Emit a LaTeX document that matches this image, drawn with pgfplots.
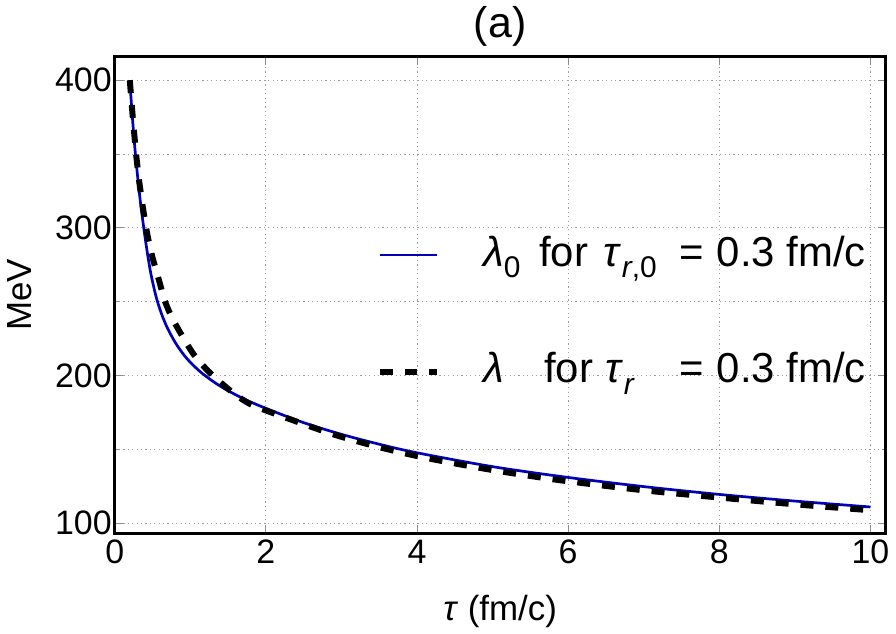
\documentclass[border=0pt]{standalone}
\usepackage{fontspec}
\setmainfont{Liberation Sans}
\usepackage{pgfplots}
\pgfplotsset{compat=1.18}
\definecolor{lblue}{RGB}{0,0,185}
\newcommand{\sub}[1]{\raisebox{-0.28em}{\fontsize{15}{15}\selectfont #1}}
\begin{document}
\begin{tikzpicture}
\path (-57.5pt,-48.5pt) rectangle (390.5pt,264pt);
\begin{axis}[
  at={(0,0)}, anchor=south west,
  scale only axis, width=386.5pt, height=239pt,
  xmin=0, xmax=10.2, ymin=93.2, ymax=416,
  xtick={0,2,4,6,8,10},
  ytick={100,200,300,400},
  minor ytick={150,250,350},
  grid=both,
  major grid style={black!38, line width=0.5pt, dash pattern=on 0.6pt off 1.6pt},
  minor grid style={black!38, line width=0.5pt, dash pattern=on 0.6pt off 1.6pt},
  axis line style={line width=1.4pt},
  tick align=inside,
  major tick length=4pt, minor tick length=2pt,
  tick style={black!45, line width=0.5pt},
  /pgf/number format/assume math mode=true,
  ticklabel style={font=\fontsize{17}{20}\selectfont},
  yticklabel style={xshift=2pt},
  xlabel={\textit{τ} (fm/c)},
  ylabel={MeV},
  label style={font=\fontsize{17.5}{21}\selectfont},
  xlabel style={at={(axis description cs:0.5,0)}, anchor=center, yshift=-39pt},
  ylabel style={at={(axis description cs:-0.1229,0.5)}, anchor=center},
  title={(a)},
  title style={at={(axis description cs:0.5,1)}, anchor=center, yshift=9pt, font=\fontsize{21.5}{25}\selectfont},
  legend cell align=left,
  legend image code/.code={\draw[#1] (0pt,0pt) -- (29pt,0pt);},
  legend style={draw=none, fill=none, at={(axis cs:3.46,296)}, anchor=north west,
    inner sep=0pt, row sep=37.5pt, font=\fontsize{21}{25}\selectfont,
    nodes={inner sep=0pt, text height=16pt, text depth=5pt},
    /tikz/every odd column/.append style={column sep=21.5pt}},
]
\addplot[lblue, line width=1.35pt, smooth, tension=0.5] coordinates {
(0.2,400) (0.23,377.7) (0.26,358.3) (0.276,349) (0.3,336.5) (0.34,317.6) (0.386,299.5)
(0.43,283.8) (0.48,268.6) (0.55,253) (0.62,241.7) (0.7,231.9) (0.8,222.5) (0.9,215) (1.0,209)
(1.16,201.4) (1.4,192.7) (1.7,184.4) (2.0,177.8) (2.5,168.1) (3.0,160.2) (3.5,153.5) (4.0,147.7)
(5.0,138.3) (6.0,131) (7.0,124.8) (8.0,119.5) (9.0,115) (10.0,111)
};
\addlegendentry{\makebox[28pt][l]{\textit{λ}\sub{0}}\makebox[32.5pt][l]{for}\makebox[38pt][l]{\textit{τ}\sub{\textit{r},0}}=\hspace{0.3em}0.3 fm/c}
\addplot[black, line width=3pt, dash pattern=on 6.5pt off 6pt, smooth, tension=0.5] coordinates {
(0.2,400) (0.22,387) (0.24,374.5) (0.26,363) (0.28,351.5) (0.3,342) (0.32,333) (0.35,322) (0.38,311.5)
(0.42,299) (0.45,291) (0.5,280) (0.55,271) (0.6,262) (0.66,251) (0.75,240) (0.84,231.5) (0.95,222)
(1.05,214) (1.2,205) (1.32,199) (1.5,191) (1.64,185.5) (1.8,180.5) (2.02,176) (2.37,169.5) (2.7,163.5)
(3.0,158.5) (3.5,151.5) (4.0,145.5) (4.5,140.5) (5.0,136) (5.5,132) (6.0,128.4) (7.0,122.3)
(8.0,117.4) (9.0,112.8) (10.0,108.8)
};
\addlegendentry{\makebox[30.5pt][l]{\textit{λ}}\makebox[31pt][l]{for}\makebox[37pt][l]{\textit{τ}\sub{\textit{r}}}=\hspace{0.3em}0.3 fm/c}
\end{axis}
\end{tikzpicture}
\end{document}
